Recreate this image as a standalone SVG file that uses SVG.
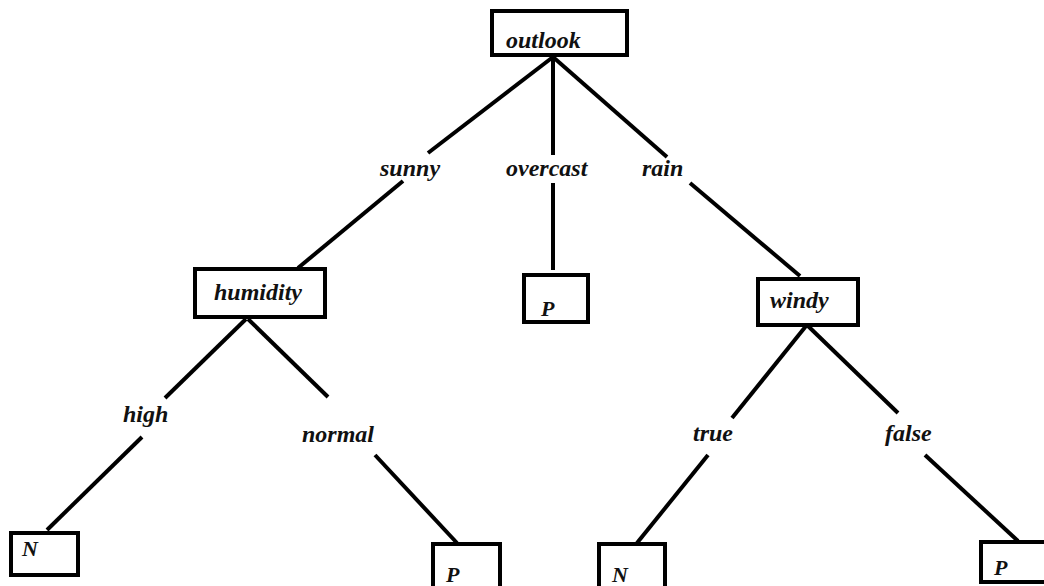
<svg xmlns="http://www.w3.org/2000/svg" width="1044" height="586" viewBox="0 0 1044 586">
<style>
.box{fill:#fff;stroke:#000;stroke-width:4}
.edge{stroke:#000;stroke-width:4;fill:none;stroke-linecap:butt}
.t{font-family:"Liberation Serif","DejaVu Serif",serif;font-style:italic;font-weight:bold;font-size:24px;fill:#111}
.s{font-family:"Liberation Serif","DejaVu Serif",serif;font-style:italic;font-weight:bold;font-size:22px;fill:#111}
</style>
<rect width="1044" height="586" fill="#fff"/>
<g id="connectors">
<line class="edge" x1="553" y1="57" x2="428" y2="153"/>
<line class="edge" x1="403" y1="181" x2="298" y2="268"/>
<line class="edge" x1="553" y1="57" x2="553" y2="155"/>
<line class="edge" x1="553" y1="183" x2="553" y2="270"/>
<line class="edge" x1="553" y1="57" x2="667" y2="157"/>
<line class="edge" x1="690" y1="183" x2="800" y2="276"/>
<line class="edge" x1="246" y1="319" x2="165" y2="398"/>
<line class="edge" x1="142" y1="437" x2="47" y2="530"/>
<line class="edge" x1="248" y1="319" x2="328" y2="397"/>
<line class="edge" x1="375" y1="455" x2="457" y2="543"/>
<line class="edge" x1="806" y1="326" x2="732" y2="418"/>
<line class="edge" x1="708" y1="455" x2="637" y2="543"/>
<line class="edge" x1="808" y1="326" x2="898" y2="413"/>
<line class="edge" x1="925" y1="455" x2="1018" y2="541"/>
</g>
<g id="edge-labels">
<text class="t" x="380" y="176">sunny</text>
<text class="t" x="506" y="176">overcast</text>
<text class="t" x="642" y="176">rain</text>
<text class="t" x="123" y="422">high</text>
<text class="t" x="302" y="442">normal</text>
<text class="t" x="693" y="441">true</text>
<text class="t" x="885" y="441">false</text>
</g>
<g id="outlook"><rect class="box" x="492" y="11" width="135" height="44"/><text class="t" x="506" y="48">outlook</text></g>
<g id="humidity"><rect class="box" x="195" y="269" width="130" height="48"/><text class="t" x="214" y="300">humidity</text></g>
<g id="p-overcast"><rect class="box" x="524" y="275" width="64" height="47"/><text class="s" x="541" y="316">P</text></g>
<g id="windy"><rect class="box" x="758" y="279" width="100" height="46"/><text class="t" x="770" y="308">windy</text></g>
<g id="n-high"><rect class="box" x="11" y="533" width="67" height="42"/><text class="s" x="22" y="556">N</text></g>
<g id="p-normal"><rect class="box" x="433" y="544" width="67" height="46"/><text class="s" x="446" y="582">P</text></g>
<g id="n-true"><rect class="box" x="599" y="544" width="66" height="46"/><text class="s" x="612" y="582">N</text></g>
<g id="p-false"><rect class="box" x="981" y="542" width="70" height="40"/><text class="s" x="994" y="575">P</text></g>
</svg>
